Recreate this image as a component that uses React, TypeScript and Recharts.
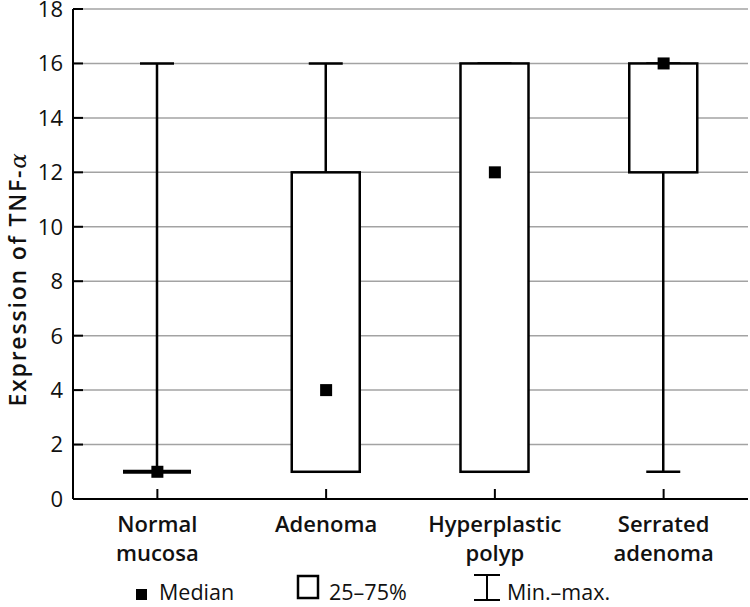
import React from "react";
import {
  ComposedChart,
  Bar,
  Scatter,
  XAxis,
  YAxis,
  CartesianGrid,
  Legend,
} from "recharts";

const CATEGORIES = ["Normal mucosa", "Adenoma", "Hyperplastic polyp", "Serrated adenoma"];
const MIN = [1, 1, 1, 1];
const Q1 = [1, 1, 1, 12];
const MEDIAN = [1, 4, 12, 16];
const Q3 = [1, 12, 16, 16];
const MAX = [16, 16, 16, 16];
const Y_TICKS = [0, 2, 4, 6, 8, 10, 12, 14, 16, 18];

const data = CATEGORIES.map((name, i) => ({
  name,
  min: MIN[i],
  q1: Q1[i],
  median: MEDIAN[i],
  q3: Q3[i],
  max: MAX[i],
}));

const FONT = "'Open Sans', sans-serif";
const TICK = 10;

// whiskers + 25-75% box, positioned from the min..max range bar the library gives us
const BoxShape = (props: any) => {
  const { x, y, width, height, payload } = props;
  const { min, max, q1, q3 } = payload;
  const k = height / (max - min);
  const yOf = (v: number) => y + (max - v) * k;
  const cx = x + width / 2;
  const cap = 34;
  const sw = 2.5;
  return (
    <g>
      <line x1={cx} x2={cx} y1={yOf(max)} y2={yOf(q3)} stroke="#000" strokeWidth={sw} />
      <line x1={cx} x2={cx} y1={yOf(q1)} y2={yOf(min)} stroke="#000" strokeWidth={sw} />
      <line x1={cx - cap / 2} x2={cx + cap / 2} y1={yOf(max)} y2={yOf(max)} stroke="#000" strokeWidth={sw} />
      <line x1={cx - cap / 2} x2={cx + cap / 2} y1={yOf(min)} y2={yOf(min)} stroke="#000" strokeWidth={sw} />
      {q3 > q1 ? (
        <rect
          x={x}
          y={yOf(q3)}
          width={width}
          height={yOf(q1) - yOf(q3)}
          fill="#fff"
          stroke="#000"
          strokeWidth={sw}
        />
      ) : (
        <line x1={x} x2={x + width} y1={yOf(q1)} y2={yOf(q1)} stroke="#000" strokeWidth={4} />
      )}
    </g>
  );
};

const MedianShape = (props: any) => {
  const { cx, cy } = props;
  return <rect x={cx - 6} y={cy - 6} width={12} height={12} fill="#000" />;
};

const LeftTick = (props: any) => {
  const { x, y, payload } = props;
  return (
    <g>
      <line x1={x + 10} x2={x + 10 + TICK} y1={y} y2={y} stroke="#000" strokeWidth={2} />
      <text x={x} y={y} dy="0.36em" textAnchor="end" fontSize={22} fill="#111" fontFamily={FONT}>
        {payload.value}
      </text>
    </g>
  );
};

const RightTick = (props: any) => {
  const { x, y } = props;
  return <line x1={x - TICK} x2={x} y1={y} y2={y} stroke="#000" strokeWidth={2} />;
};

const TopTick = (props: any) => {
  const { x, y } = props;
  return <line x1={x} x2={x} y1={y} y2={y + TICK} stroke="#000" strokeWidth={2} />;
};

const BottomTick = (props: any) => {
  const { x, y, payload } = props;
  const lines = String(payload.value).split(" ");
  return (
    <g>
      <line x1={x} x2={x} y1={y - TICK} y2={y} stroke="#000" strokeWidth={2} />
      <text textAnchor="middle" fontSize={22} fontWeight={600} fill="#111" fontFamily={FONT}>
        {lines.map((l, i) => (
          <tspan key={i} x={x} y={y + 33 + i * 29}>
            {l}
          </tspan>
        ))}
      </text>
    </g>
  );
};

const YLabel = () => (
  <text
    transform="translate(26, 279) rotate(-90)"
    textAnchor="middle"
    fontSize={23}
    fontWeight={600}
    letterSpacing={1.8}
    fill="#111"
    fontFamily={FONT}
  >
    Expression of TNF-
    <tspan fontFamily="'DejaVu Serif', serif" fontStyle="italic" fontWeight={400}>
      α
    </tspan>
  </text>
);

const renderLegend = () => (
  <svg width={750} height={36} style={{ display: "block" }}>
    <rect x={136} y={18} width={11} height={11} fill="#000" />
    <text x={159} y={29} fontSize={21.5} fill="#111" fontFamily={FONT}>
      Median
    </text>
    <rect x={298} y={5} width={20} height={22} fill="none" stroke="#000" strokeWidth={2.5} />
    <text x={329} y={29} fontSize={21.5} fill="#111" fontFamily={FONT}>
      25–75%
    </text>
    <line x1={474} x2={500} y1={4} y2={4} stroke="#000" strokeWidth={2} />
    <line x1={487} x2={487} y1={4} y2={29} stroke="#000" strokeWidth={2} />
    <line x1={474} x2={500} y1={29} y2={29} stroke="#000" strokeWidth={2} />
    <text x={507} y={29} fontSize={21.5} fill="#111" fontFamily={FONT}>
      Min.–max.
    </text>
  </svg>
);

export default function App() {
  return (
    <div style={{ position: "absolute", left: 0, top: 0, width: 750, height: 607, background: "#fff", fontFamily: FONT }}>
      <ComposedChart width={750} height={607} data={data} margin={{ top: 9, right: 2, bottom: 12, left: 0 }}>
        <CartesianGrid vertical={false} stroke="#a3a3a3" strokeWidth={1.5} />
        <XAxis
          dataKey="name"
          height={60}
          interval={0}
          tickSize={0}
          tickMargin={0}
          tick={<BottomTick />}
          axisLine={{ stroke: "#000", strokeWidth: 2 }}
        />
        <XAxis
          xAxisId="top"
          dataKey="name"
          orientation="top"
          height={0}
          interval={0}
          tickSize={0}
          tickMargin={0}
          tick={<TopTick />}
          axisLine={{ stroke: "#000", strokeWidth: 2 }}
        />
        <YAxis
          domain={[0, 18]}
          ticks={Y_TICKS}
          width={73}
          interval={0}
          tickSize={0}
          tickMargin={10}
          tick={<LeftTick />}
          axisLine={{ stroke: "#000", strokeWidth: 2 }}
          label={<YLabel />}
        />
        <YAxis
          yAxisId="right"
          orientation="right"
          domain={[0, 18]}
          ticks={Y_TICKS}
          width={0}
          interval={0}
          tickSize={0}
          tickMargin={0}
          tick={<RightTick />}
          axisLine={{ stroke: "#000", strokeWidth: 2 }}
        />
        <Bar dataKey={(d: any) => [d.min, d.max]} barSize={68} shape={<BoxShape />} isAnimationActive={false} />
        <Scatter dataKey="median" shape={<MedianShape />} isAnimationActive={false} />
        <Legend
          content={renderLegend}
          verticalAlign="bottom"
          wrapperStyle={{ left: 0, bottom: 0, width: 750, height: 36 }}
        />
      </ComposedChart>
    </div>
  );
}
